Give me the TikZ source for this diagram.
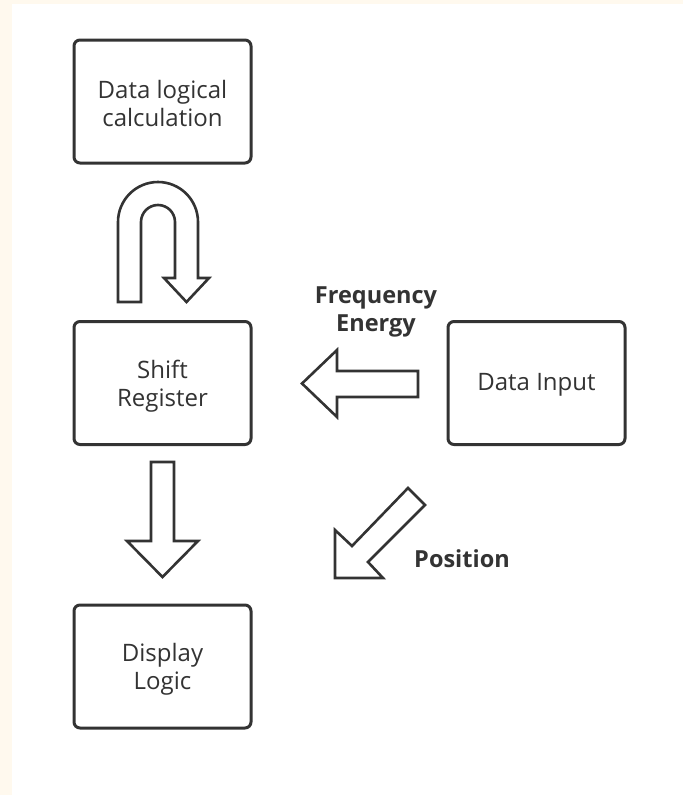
\documentclass[tikz,border=0pt]{standalone}
\usepackage{fontspec}
\setmainfont{Open Sans}
\definecolor{cream}{HTML}{FFF9EE}
\definecolor{ink}{HTML}{333333}
\begin{document}
\begin{tikzpicture}[x=1pt,y=-1pt,
  box/.style={draw=ink, line width=3pt, rounded corners=6pt, fill=white,
    minimum width=177pt, minimum height=123pt, align=center, text=ink,
    font=\fontsize{24}{28}\selectfont},
  boxtext/.style={align=center, text=ink, font=\fontsize{24}{28}\selectfont},
  blockarrow/.style={draw=ink, line width=2.6pt, fill=white},
  lbl/.style={text=ink, font=\fontsize{23.5}{26}\selectfont\bfseries, inner sep=0pt}]
\useasboundingbox (0,0) rectangle (683,795);
\fill[cream] (0,0) rectangle (683,795);
\fill[white] (12,4) rectangle (683,795);

\node[box] (calc) at (162.5,101.5) {};
\node[box] (shift) at (162.5,383) {};
\node[box] (input) at (536.5,383) {};
\node[box] (display) at (162.5,666.5) {};
\node[boxtext] (calct) at ([yshift=-2pt]calc.center) {Data logical\\calculation};
\node[boxtext] (shiftt) at ([yshift=-3pt]shift.center) {Shift\\Register};
\node[boxtext] (inputt) at ([yshift=-2pt]input.center) {Data Input};
\node[boxtext] (displayt) at ([yshift=-3pt]display.center) {Display\\Logic};

% U-turn arrow between calc and shift
\draw[blockarrow] (118,302) -- (118,222) arc (180:360:40) -- (198,278)
  -- (209,278) -- (186.5,302) -- (164,278) -- (175,278) -- (175,222)
  arc (360:180:17) -- (141,302) -- cycle;

% down arrow shift -> display
\draw[blockarrow] (151,462) -- (174,462) -- (174,541) -- (198,541)
  -- (162.5,577) -- (127,541) -- (151,541) -- cycle;

% left arrow input -> shift
\draw[blockarrow] (418,371) -- (418,397) -- (337,397) -- (337,417)
  -- (302,383.5) -- (337,350) -- (337,371) -- cycle;

% diagonal arrow
\draw[blockarrow] (408,488) -- (425,505) -- (368,562) -- (383,578)
  -- (335,578) -- (335,530) -- (352,546) -- cycle;

\node[lbl] (freq) at (376,298) {Frequency};
\node[lbl] (energy) at (376,326) {Energy};
\node[lbl] (pos) at (462,559) {Position};
\end{tikzpicture}
\end{document}
